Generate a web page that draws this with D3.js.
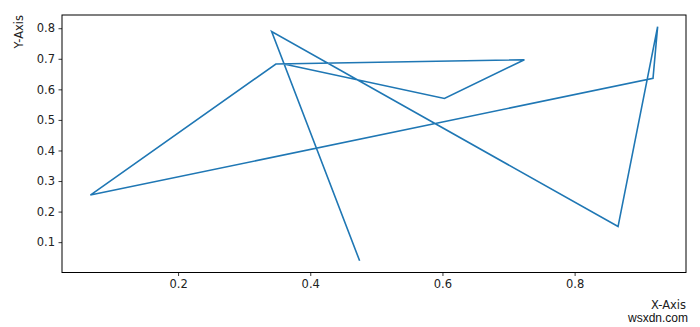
<!DOCTYPE html>
<html>
<head>
<meta charset="utf-8">
<script src="https://cdn.jsdelivr.net/npm/d3@7"></script>
<style>
  body { margin: 0; background: #fff; }
  svg { display: block; font-family: "DejaVu Sans", sans-serif; }
</style>
</head>
<body>
<svg width="700" height="327"></svg>
<script>
// points in drawing order
var xs = [0.4747, 0.3416, 0.8657, 0.9256, 0.9186, 0.0673, 0.348, 0.724, 0.603, 0.36];
var ys = [0.039, 0.789, 0.151, 0.805, 0.636, 0.254, 0.683, 0.697, 0.570, 0.683];
var xTicks = [0.2, 0.4, 0.6, 0.8];
var yTicks = [0.1, 0.2, 0.3, 0.4, 0.5, 0.6, 0.7, 0.8];

var svg = d3.select("svg"),
    plotLeft = 62, plotRight = 686, plotTop = 15, plotBottom = 272.5;

// matplotlib style 5% margins
function padded(v) {
  var lo = d3.min(v), hi = d3.max(v), r = hi - lo;
  return [lo - 0.05 * r, hi + 0.05 * r];
}

var x = d3.scaleLinear().domain(padded(xs)).range([plotLeft, plotRight]);
var y = d3.scaleLinear().domain(padded(ys)).range([plotBottom, plotTop]);

var xAxis = svg.append("g")
    .attr("transform", "translate(0," + plotBottom + ")")
    .call(d3.axisBottom(x).tickValues(xTicks).tickFormat(d3.format(".1f"))
      .tickSize(3.5).tickPadding(3.5).tickSizeOuter(0));
var yAxis = svg.append("g")
    .attr("transform", "translate(" + plotLeft + ",0)")
    .call(d3.axisLeft(y).tickValues(yTicks).tickFormat(d3.format(".1f"))
      .tickSize(3.5).tickPadding(3.5).tickSizeOuter(0));

[xAxis, yAxis].forEach(function(a) {
  a.select(".domain").remove();
  a.selectAll("text").attr("font-size", 11.5).attr("fill", "#222")
    .attr("font-family", "DejaVu Sans");
  a.selectAll("line").attr("stroke", "#222").attr("stroke-width", 0.9);
});

var line = d3.line()
    .x(function(d, i) { return x(xs[i]); })
    .y(function(d, i) { return y(ys[i]); });

svg.append("path")
    .datum(xs)
    .attr("d", line)
    .attr("fill", "none")
    .attr("stroke", "#1f77b4")
    .attr("stroke-width", 1.6)
    .attr("stroke-linejoin", "miter");

svg.append("rect")
    .attr("x", plotLeft).attr("y", plotTop)
    .attr("width", plotRight - plotLeft).attr("height", plotBottom - plotTop)
    .attr("fill", "none").attr("stroke", "#000").attr("stroke-width", 1);

svg.append("text")
    .attr("x", plotRight).attr("y", 308.5)
    .attr("text-anchor", "end")
    .attr("font-size", 11.5).attr("fill", "#222")
    .text("X-Axis");

svg.append("text")
    .attr("transform", "translate(23," + plotTop + ") rotate(-90)")
    .attr("text-anchor", "end")
    .attr("font-size", 11.5).attr("fill", "#222")
    .text("Y-Axis");

svg.append("text")
    .attr("x", 688).attr("y", 321.5)
    .attr("text-anchor", "end")
    .attr("font-family", "Liberation Sans, Arial, sans-serif")
    .attr("font-size", 12).attr("fill", "#111")
    .text("wsxdn.com");
</script>
</body>
</html>
